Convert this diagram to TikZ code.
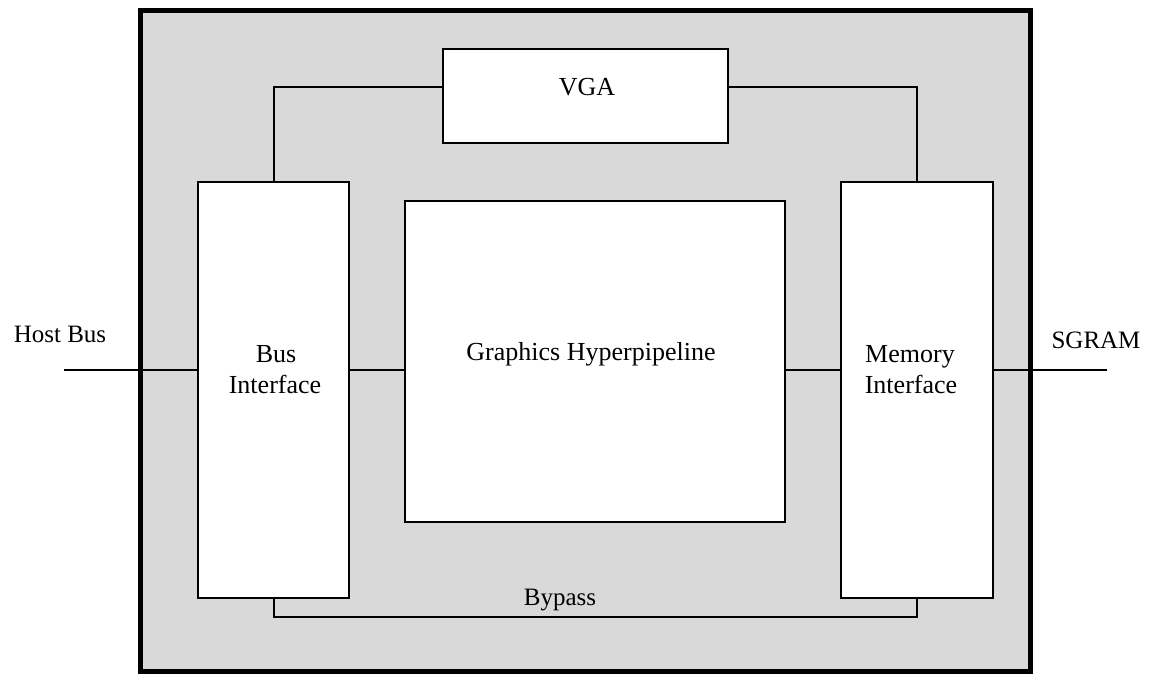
\documentclass[tikz,border=0pt]{standalone}
\usepackage{fontspec}
\setmainfont{Liberation Serif}
\usetikzlibrary{calc}
\definecolor{chipgray}{HTML}{D9D9D9}
\tikzset{
  chipbox/.style={draw=black, fill=chipgray, line width=5pt, inner sep=0pt, outer sep=0pt, anchor=north west},
  blockbox/.style={draw=black, fill=white, line width=2pt, inner sep=0pt, outer sep=0pt, anchor=north west},
  wire/.style={draw=black, line width=2pt},
  inlbl/.style={inner sep=0pt, anchor=base, font=\fontsize{26}{31}\selectfont},
  outlbl/.style={inner sep=0pt, anchor=base, font=\fontsize{25}{30}\selectfont}
}
\begin{document}
\begin{tikzpicture}[x=1pt,y=-1pt]
\useasboundingbox (0,0) rectangle (1153,673);
% chip outline
\node[chipbox, minimum width=890pt, minimum height=661pt] (chip) at (140.5,10.5) {};
% blocks
\node[blockbox, minimum width=285pt, minimum height=94pt] (vga) at (443,49) {};
\node[blockbox, minimum width=151pt, minimum height=416pt] (bus) at (198,182) {};
\node[blockbox, minimum width=380pt, minimum height=321pt] (gh) at (405,201) {};
\node[blockbox, minimum width=152pt, minimum height=416pt] (mem) at (841,182) {};
% connection points
\coordinate (hb) at (64,370);
\coordinate (sg) at (1107,370);
\coordinate (vgaL) at ($(vga.north west)!0.4!(vga.south west)$);
\coordinate (vgaR) at ($(vga.north east)!0.4!(vga.south east)$);
% connectors
\draw[wire] (hb) -- (hb -| bus.west);
\draw[wire] (hb -| bus.east) -- (hb -| gh.west);
\draw[wire] (hb -| gh.east) -- (hb -| mem.west);
\draw[wire] (hb -| mem.east) -- (sg);
\draw[wire] (bus.north) |- (vgaL);
\draw[wire] (vgaR) -| (mem.north);
\draw[wire] (bus.south) -- ++(0,19) -| (mem.south);
% labels
\node[inlbl] (vgatxt) at (587,95) {VGA};
\node[inlbl] (bustxt1) at (276,362) {Bus};
\node[inlbl] (bustxt2) at (275,393) {Interface};
\node[inlbl] (ghtxt) at (591,360) {Graphics Hyperpipeline};
\node[inlbl] (memtxt1) at (910,362) {Memory};
\node[inlbl] (memtxt2) at (911,393) {Interface};
\node[outlbl] (hostbus) at (60,342) {Host Bus};
\node[outlbl] (sgram) at (1096,348) {SGRAM};
\node[outlbl] (bypass) at (560,605) {Bypass};
\end{tikzpicture}
\end{document}
